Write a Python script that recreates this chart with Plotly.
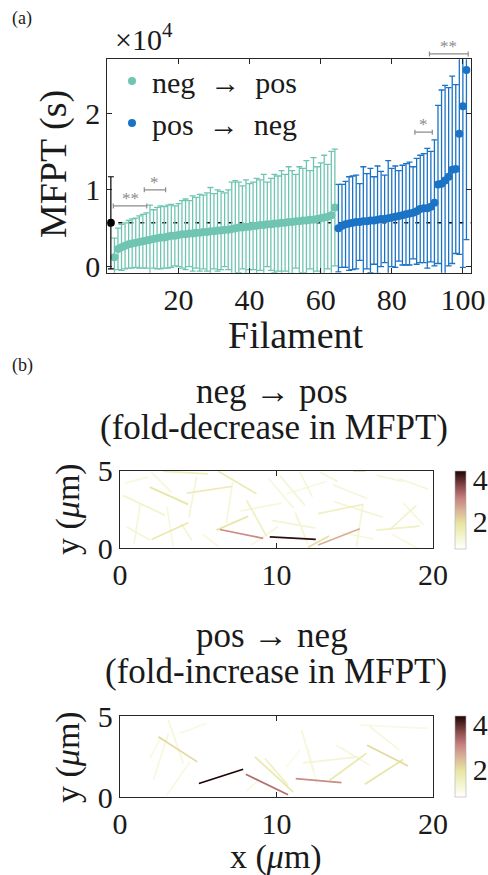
import plotly.graph_objects as go
from plotly.colors import sample_colorscale

W, H = 488, 875
FONT = "Liberation Serif"
TXT = "#1a1a1a"
AX = "#262626"

# ---------------- panel (a): MFPT per filament (units of 1e4 s) ----------------
ref_filament = [1]
ref_mfpt = [0.57]
ref_err = [0.60]

neg_pos_filament = list(range(2, 65))
neg_pos_mfpt = [0.12, 0.23, 0.25, 0.27, 0.29, 0.30, 0.31, 0.32, 0.33, 0.34,
                0.35, 0.36, 0.37, 0.38, 0.38, 0.39, 0.40, 0.40, 0.41, 0.42,
                0.42, 0.43, 0.43, 0.44, 0.44, 0.45, 0.45, 0.46, 0.46, 0.47,
                0.47, 0.48, 0.48, 0.49, 0.50, 0.51, 0.51, 0.52, 0.52, 0.53,
                0.53, 0.54, 0.54, 0.55, 0.55, 0.56, 0.56, 0.57, 0.57, 0.58,
                0.58, 0.59, 0.59, 0.60, 0.60, 0.61, 0.61, 0.62, 0.63, 0.64,
                0.65, 0.67, 0.77]
neg_pos_err = [0.25, 0.27, 0.30, 0.30, 0.31, 0.32, 0.32, 0.34, 0.35, 0.36,
               0.45, 0.38, 0.40, 0.41, 0.40, 0.41, 0.41, 0.39, 0.41, 0.44,
               0.46, 0.43, 0.49, 0.46, 0.50, 0.48, 0.51, 0.57, 0.49, 0.53,
               0.51, 0.48, 0.52, 0.61, 0.62, 0.59, 0.54, 0.61, 0.56, 0.57,
               0.62, 0.59, 0.66, 0.55, 0.60, 0.64, 0.62, 0.68, 0.63, 0.72,
               0.67, 0.61, 0.71, 0.68, 0.78, 0.64, 0.81, 0.68, 0.72, 0.81,
               0.68, 0.83, 0.76]

pos_neg_filament = list(range(65, 102))
pos_neg_mfpt = [0.50, 0.53, 0.55, 0.56, 0.57, 0.58, 0.58, 0.59, 0.59, 0.60,
                0.60, 0.61, 0.62, 0.62, 0.63, 0.64, 0.65, 0.66, 0.67, 0.68,
                0.69, 0.70, 0.72, 0.75, 0.76, 0.76, 0.78, 0.83, 1.07, 1.08,
                1.12, 1.17, 1.26, 1.27, 1.73, 2.09, 2.56]
pos_neg_err = [0.57, 0.54, 0.56, 0.61, 0.61, 0.61, 0.50, 0.71, 0.62, 0.68,
               0.57, 0.70, 0.62, 0.57, 0.75, 0.64, 0.66, 0.59, 0.65, 0.66,
               0.67, 0.60, 0.69, 0.70, 0.71, 0.78, 0.72, 0.82, 1.03, 1.22,
               1.24, 1.16, 1.22, 1.10, 1.57, 2.10, 2.21]

# significance brackets
sig_x0 = [1.7, 10.4, 86.5, 90.6]
sig_x1 = [11.1, 16.4, 91.4, 101.5]
sig_y = [0.79, 1.00, 1.75, 2.77]
sig_label = ["**", "*", "*", "**"]

x_ticks_a = [20, 40, 60, 80, 100]
y_ticks_a = [0, 1, 2]
x_range_a = [0, 102.2]
y_range_a = [-0.08, 2.70]

# ---------------- panel (b): filament segments coloured by fold change ----------------
b1_x0 = [9.57, 6.38, 12.66, 12.02, 6.17, 1.91, 4.26, 2.02, 6.28, 0.21, 16.38, 14.9, 12.66, 8.09,
         2.77, 10.21, 17.2, 15.53, 0.43, 3.9, 11.2, 13.7, 9.7, 17.8, 1.3, 4.9, 7.2, 9.5, 11.5,
         16.4, 13.6, 18.1, 0.3, 3.0, 8.4, 14.2, 5.3, 17.4, 10.6, 2.0, 7.7, 12.8]
b1_y0 = [0.74, 1.21, 0.21, 0.06, 1.17, 3.94, 3.55, 0.57, 4.96, 3.40, 1.17, 4.98, 2.23, 3.09,
         4.96, 4.68, 1.17, 2.87, 1.38, 1.6, 2.3, 3.0, 1.8, 4.5, 2.9, 4.6, 4.3, 4.5, 4.9,
         4.7, 4.1, 2.9, 4.2, 2.7, 0.2, 1.0, 0.9, 0.9, 3.5, 4.9, 2.4, 4.9]
b1_x1 = [12.51, 9.15, 15.32, 13.36, 8.19, 4.36, 7.13, 4.36, 8.72, 2.87, 19.15, 15.7, 15.53, 9.36,
         5.64, 11.81, 18.94, 15.11, 1.91, 4.6, 12.0, 16.8, 12.5, 19.7, 0.9, 4.4, 6.8, 11.1, 12.3,
         18.1, 15.8, 19.4, 1.8, 3.4, 10.1, 16.2, 6.3, 19.0, 13.2, 3.3, 10.3, 13.9]
b1_y1 = [0.57, 0.64, 1.26, 0.79, 2.06, 2.83, 3.98, 1.64, 3.51, 2.13, 1.43, 4.98, 2.83, 0.79,
         4.79, 2.77, 2.77, 0.11, 0.53, 0.5, 0.3, 2.0, 1.3, 3.8, 0.3, 2.0, 1.6, 2.6, 3.3,
         4.3, 3.2, 1.5, 4.6, 0.1, 1.4, 0.6, 0.1, 0.0, 4.3, 3.6, 2.9, 4.3]
b1_fold = [4.3, 3.0, 2.6, 2.0, 1.9, 1.9, 1.7, 1.8, 1.7, 1.4, 1.5, 2.0, 1.5, 1.5,
           1.6, 1.3, 1.4, 1.3, 1.3, 1.3, 1.3, 1.3, 1.3, 1.25, 1.2, 1.25, 1.2, 1.2, 1.2,
           1.2, 1.2, 1.2, 1.15, 1.15, 1.2, 1.2, 1.15, 1.15, 1.15, 1.2, 1.2, 1.3]

b2_x0 = [5.04, 8.04, 11.23, 2.45, 15.79, 15.64, 13.40, 8.62, 9.26, 11.70, 3.09, 2.13, 2.98,
         11.6, 15.32, 15.96, 13.83, 3.83, 1.91, 10.64, 8.1, 12.0]
b2_y0 = [0.83, 1.40, 1.14, 3.72, 3.20, 0.79, 1.03, 2.48, 2.38, 2.11, 4.75, 1.03, 0.10,
         4.13, 4.44, 4.34, 3.2, 3.93, 2.38, 1.86, 0.4, 3.0]
b2_x1 = [7.87, 10.74, 14.15, 4.94, 18.40, 18.09, 15.74, 11.06, 10.74, 15.21, 4.04, 3.09, 4.47,
         12.34, 19.68, 17.87, 15.96, 5.53, 2.66, 11.49, 8.8, 12.6]
b2_y1 = [1.71, 0.14, 0.89, 2.17, 1.92, 2.31, 2.69, 0.31, 0.72, 2.48, 2.07, 3.93, 2.17,
         1.65, 4.24, 2.89, 1.96, 4.55, 3.72, 2.89, 1.0, 0.8]
b2_fold = [4.4, 3.3, 3.0, 2.1, 2.1, 1.9, 1.8, 1.8, 1.5, 1.3, 1.2, 1.15, 1.15,
           1.2, 1.1, 1.2, 1.2, 1.1, 1.1, 1.05, 1.1, 1.1]

fold_range = [0.75, 4.4]
fold_ticks = [2, 4]
x_ticks_b = [0, 10, 20]
y_ticks_b = [0, 5]

# colours
GREEN = "#6fc5b1"
BLUE = "#1b73c6"
fold_cmap = [[0.0, "rgb(255,255,255)"], [0.15, "rgb(244,245,210)"], [0.32, "rgb(232,230,162)"],
             [0.5, "rgb(216,178,152)"], [0.65, "rgb(198,128,128)"], [0.8, "rgb(140,76,76)"],
             [1.0, "rgb(30,4,4)"]]

# pixel layout of the reference
A_X = [107.3, 470.7]; A_Y = [59.3, 272.7]
B_X = [120.0, 433.0]; B1_Y = [470.7, 548.3]; B2_Y = [716.0, 797.0]


def xd(px):
    return [px[0] / W, px[1] / W]


def yd(py):
    return [1 - py[1] / H, 1 - py[0] / H]


fig = go.Figure()

# panel (a)
fig.add_trace(go.Scatter(x=neg_pos_filament, y=neg_pos_mfpt, mode="markers",
                         name="neg\u00a0 →\u00a0 pos",
                         marker=dict(color=GREEN, size=8),
                         error_y=dict(type="data", array=neg_pos_err, color=GREEN,
                                      thickness=1.3, width=3),
                         xaxis="x", yaxis="y"))
fig.add_trace(go.Scatter(x=pos_neg_filament, y=pos_neg_mfpt, mode="markers",
                         name="pos\u00a0 →\u00a0 neg",
                         marker=dict(color=BLUE, size=8),
                         error_y=dict(type="data", array=pos_neg_err, color=BLUE,
                                      thickness=1.3, width=3),
                         xaxis="x", yaxis="y"))
fig.add_trace(go.Scatter(x=ref_filament, y=ref_mfpt, mode="markers", showlegend=False,
                         marker=dict(color="black", size=8),
                         error_y=dict(type="data", array=ref_err, color="black",
                                      thickness=1.2, width=3),
                         xaxis="x", yaxis="y"))

fig.add_shape(type="line", xref="x domain", yref="y", x0=0, x1=1,
              y0=ref_mfpt[0], y1=ref_mfpt[0], layer="below",
              line=dict(color="black", width=1.4, dash="4px,7px"))

dom_a = yd(A_Y)


def ypaper(v):
    return dom_a[0] + (v - y_range_a[0]) / (y_range_a[1] - y_range_a[0]) * (dom_a[1] - dom_a[0])


cap = 2.5 / H
for x0, x1, yv, lab in zip(sig_x0, sig_x1, sig_y, sig_label):
    yp = ypaper(yv)
    fig.add_shape(type="line", xref="x", yref="paper", x0=x0, x1=x1, y0=yp, y1=yp,
                  line=dict(color="#8c8c8c", width=1.2))
    for xe in (x0, x1):
        fig.add_shape(type="line", xref="x", yref="paper", x0=xe, x1=xe, y0=yp - cap, y1=yp + cap,
                      line=dict(color="#8c8c8c", width=1.2))
    fig.add_annotation(x=(x0 + x1) / 2, y=yp, xref="x", yref="paper", text=lab, showarrow=False,
                       yanchor="bottom", yshift=-4, font=dict(size=17, color="#8c8c8c", family=FONT))

# panel (b)
def add_segments(x0s, y0s, x1s, y1s, vals, xa, ya):
    order = sorted(range(len(vals)), key=lambda i: vals[i])
    for i in order:
        t = (vals[i] - fold_range[0]) / (fold_range[1] - fold_range[0])
        t = min(max(t, 0), 1)
        col = sample_colorscale(fold_cmap, [t])[0]
        fig.add_trace(go.Scatter(x=[x0s[i], x1s[i]], y=[y0s[i], y1s[i]], mode="lines",
                                 line=dict(color=col, width=1.7), showlegend=False,
                                 hoverinfo="skip", xaxis=xa, yaxis=ya))


add_segments(b1_x0, b1_y0, b1_x1, b1_y1, b1_fold, "x2", "y2")
add_segments(b2_x0, b2_y0, b2_x1, b2_y1, b2_fold, "x3", "y3")


def add_colorbar(xs, ys, vals, xa, ya, py):
    fig.add_trace(go.Scatter(
        x=xs, y=ys, mode="markers", showlegend=False, hoverinfo="skip",
        xaxis=xa, yaxis=ya,
        marker=dict(size=1, opacity=0, color=vals, colorscale=fold_cmap,
                    cmin=fold_range[0], cmax=fold_range[1], showscale=True,
                    colorbar=dict(x=455 / W, xanchor="left", y=1 - (py[0] + py[1]) / 2 / H,
                                  yanchor="middle", len=py[1] - py[0], lenmode="pixels",
                                  thickness=11, thicknessmode="pixels", xpad=0, ypad=0,
                                  outlinewidth=0.6, outlinecolor="#b0b0b0",
                                  tickvals=fold_ticks, ticks="", ticklabelposition="outside",
                                  tickfont=dict(size=30, family=FONT, color=TXT)))))


add_colorbar(b1_x0, b1_y0, b1_fold, "x2", "y2", B1_Y)
add_colorbar(b2_x0, b2_y0, b2_fold, "x3", "y3", B2_Y)

axis_common = dict(showgrid=False, zeroline=False, showline=True, linecolor=AX, linewidth=1.3,
                   mirror="ticks", ticks="inside", ticklen=5, tickcolor=AX, tickwidth=1.2,
                   tickfont=dict(size=30, family=FONT, color=TXT))

fig.update_layout(
    width=W, height=H, margin=dict(l=0, r=0, t=0, b=0, pad=0, autoexpand=False),
    plot_bgcolor="white", paper_bgcolor="white",
    font=dict(family=FONT, color=TXT),
    xaxis=dict(domain=xd(A_X), range=x_range_a, tickvals=x_ticks_a, anchor="y", **axis_common),
    yaxis=dict(domain=yd(A_Y), range=y_range_a, tickvals=y_ticks_a, anchor="x", **axis_common),
    xaxis2=dict(domain=xd(B_X), range=[0, 20], tickvals=x_ticks_b, anchor="y2", **axis_common),
    yaxis2=dict(domain=yd(B1_Y), range=[0, 5], tickvals=y_ticks_b, anchor="x2", **axis_common),
    xaxis3=dict(domain=xd(B_X), range=[0, 20], tickvals=x_ticks_b, anchor="y3", **axis_common),
    yaxis3=dict(domain=yd(B2_Y), range=[0, 5], tickvals=y_ticks_b, anchor="x3", **axis_common),
    legend=dict(x=112 / W, y=1 - 55 / H, xanchor="left", yanchor="top",
                bgcolor="rgba(0,0,0,0)", font=dict(size=30, family=FONT, color=TXT),
                tracegroupgap=0),
)

texts = [
    ("(a)", 22, 18, 18, 0),
    ("×10<sup>4</sup>", 144, 37, 30, 0),
    ("MFPT (s)", 54, 164, 38, -90),
    ("Filament", 296, 335, 38, 0),
    ("(b)", 22, 365, 18, 0),
    ("neg → pos", 272, 392, 35, 0),
    ("(fold-decrease in MFPT)", 274, 427, 35, 0),
    ("y (<i>μ</i>m)", 68, 509, 34, -90),
    ("pos → neg", 272, 635, 35, 0),
    ("(fold-increase in MFPT)", 276, 671, 35, 0),
    ("y (<i>μ</i>m)", 68, 757, 34, -90),
    ("x (<i>μ</i>m)", 276, 857, 34, 0),
]
for t, px, py, fs, ang in texts:
    fig.add_annotation(x=px / W, y=1 - py / H, xref="paper", yref="paper", text=t,
                       showarrow=False, textangle=ang, xanchor="center", yanchor="middle",
                       font=dict(size=fs, family=FONT, color=TXT))

fig.write_html("out.html", config={"displayModeBar": False},
               post_script="document.body.style.margin='0px';")
